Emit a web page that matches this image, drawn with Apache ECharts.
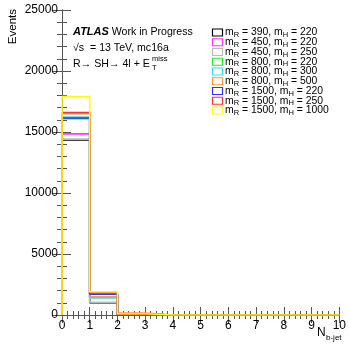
<!DOCTYPE html>
<html>
<head>
<meta charset="utf-8">
<script src="https://cdn.jsdelivr.net/npm/echarts@6/dist/echarts.min.js"></script>
<style>
html,body{margin:0;padding:0;background:#fff;}
#c{width:349px;height:344px;}
</style>
</head>
<body>
<div id="c"></div>
<script>
// ---- data ----
var binEdges = [0,1,2,3,4,5,6,7,8,9,10];
var seriesNames = [
  ['390','220'],['450','220'],['450','250'],['800','220'],['800','300'],
  ['800','500'],['1500','220'],['1500','250'],['1500','1000']
];
var seriesColors = ['#000000','#ff33ff','#bbbbbb','#22ee22','#33ddff','#ff9933','#3333ff','#ff3333','#ffff00'];
var v_390_220  = [14350, 1000,  30, 0,0,0,0,0,0,0];
var v_450_220  = [14850, 1750,  50, 0,0,0,0,0,0,0];
var v_450_250  = [14420, 1050,  40, 0,0,0,0,0,0,0];
var v_800_220  = [16100, 1450,  80, 0,0,0,0,0,0,0];
var v_800_300  = [16230, 1400, 100, 0,0,0,0,0,0,0];
var v_800_500  = [16500, 1500, 150, 0,0,0,0,0,0,0];
var v_1500_220 = [16150, 1700,  60, 0,0,0,0,0,0,0];
var v_1500_250 = [16600, 1800,  70, 0,0,0,0,0,0,0];
var v_1500_1000= [17900, 1900, 100, 0,0,0,0,0,0,0];
var allValues = [v_390_220,v_450_220,v_450_250,v_800_220,v_800_300,v_800_500,v_1500_220,v_1500_250,v_1500_1000];
var xTicks = [0,1,2,3,4,5,6,7,8,9,10];
var yTicks = [0,5000,10000,15000,20000,25000];

var FONT = 'Liberation Sans';
function histData(vals){
  var d = [[binEdges[0],0]];
  for (var i=0;i<vals.length;i++) d.push([binEdges[i], vals[i]]);
  d.push([binEdges[binEdges.length-1], vals[vals.length-1]]);
  return d;
}
var series = allValues.map(function(vals,i){
  return {
    type:'line', step:'end', symbol:'none', animation:false,
    name:'m'+i, data:histData(vals),
    lineStyle:{color:seriesColors[i], width:1.6},
    z: 2+i
  };
});

var axisCommon = {
  axisLine:{show:true, lineStyle:{color:'#555', width:1}},
  splitLine:{show:false}
};
var chart = echarts.init(document.getElementById('c'), null, {renderer:'canvas'});
var graphics = [];
// y title
graphics.push({type:'text', left:7, top:9, rotation:Math.PI/2, originX:0, originY:0,
  style:{text:'Events', font:'11.5px '+FONT, fill:'#000'}});
// annotation text
graphics.push({type:'text', x:73, y:32, style:{text:'{b|ATLAS} Work in Progress', font:'10.6px '+FONT, fill:'#000', verticalAlign:'middle',
  rich:{b:{fontWeight:'bold', fontStyle:'italic', fontSize:11, fontFamily:FONT}}}});
graphics.push({type:'text', x:73, y:48, style:{text:'√s  = 13 TeV, mc16a', font:'10.6px '+FONT, fill:'#000', verticalAlign:'middle'}});
graphics.push({type:'text', x:73, y:64, style:{text:'R→ SH→ 4l + E', font:'10.6px '+FONT, fill:'#000', verticalAlign:'middle'}});
graphics.push({type:'text', x:152, y:59, style:{text:'miss', font:'7.5px '+FONT, fill:'#000', verticalAlign:'middle'}});
graphics.push({type:'text', x:152, y:68, style:{text:'T', font:'7.5px '+FONT, fill:'#000', verticalAlign:'middle'}});
// x title
graphics.push({type:'text', x:317, y:333, style:{text:'N', font:'12px '+FONT, fill:'#000', verticalAlign:'middle'}});
graphics.push({type:'text', x:326, y:338, style:{text:'b-jet', font:'8px '+FONT, fill:'#000', verticalAlign:'middle'}});
// legend
seriesNames.forEach(function(n,i){
  var yc = 32.5 + i*9.75;
  graphics.push({type:'rect', shape:{x:212.5, y:yc-3.5, width:10, height:7},
    style:{fill:'none', stroke:seriesColors[i], lineWidth:1.2}});
  graphics.push({type:'text', x:225, y:yc, style:{
    text:'m{s|R} = '+n[0]+', m{s|H} = '+n[1], font:'10.4px '+FONT, fill:'#000', verticalAlign:'middle',
    rich:{s:{fontSize:7.5, fontFamily:FONT, padding:[5,0,0,0]}}}});
});

chart.setOption({
  animation:false,
  backgroundColor:'#fff',
  grid:{left:62, right:8, top:10, bottom:29, containLabel:false},
  xAxis:[
    Object.assign({type:'value', position:'bottom', min:0, max:10, interval:1,
      axisTick:{show:true, inside:true, length:8, lineStyle:{color:'#555'}},
      minorTick:{show:true, splitNumber:5, length:4, lineStyle:{color:'#555'}},
      axisLabel:{show:true, margin:5, fontSize:12, fontFamily:FONT, color:'#000',
        formatter:function(v){return xTicks.indexOf(v)>=0 ? String(v) : '';}}
    }, axisCommon),
    Object.assign({type:'value', position:'top', min:0, max:10, interval:1,
      axisTick:{show:true, inside:true, length:8, lineStyle:{color:'#555'}},
      minorTick:{show:true, splitNumber:5, length:4, lineStyle:{color:'#555'}},
      axisLabel:{show:false}}, axisCommon)
  ],
  yAxis:[
    Object.assign({type:'value', position:'left', min:0, max:25000, interval:5000,
      axisTick:{show:true, inside:true, length:9, lineStyle:{color:'#555'}},
      minorTick:{show:true, splitNumber:5, length:5, lineStyle:{color:'#555'}},
      axisLabel:{show:true, margin:4, fontSize:12, fontFamily:FONT, color:'#000',
        formatter:function(v){return yTicks.indexOf(v)>=0 ? String(v) : '';}}
    }, axisCommon),
    Object.assign({type:'value', position:'right', min:0, max:25000, interval:5000,
      axisTick:{show:true, inside:true, length:9, lineStyle:{color:'#555'}},
      minorTick:{show:true, splitNumber:5, length:5, lineStyle:{color:'#555'}},
      axisLabel:{show:false}}, axisCommon)
  ],
  series: series,
  graphic: graphics
});
</script>
</body>
</html>
